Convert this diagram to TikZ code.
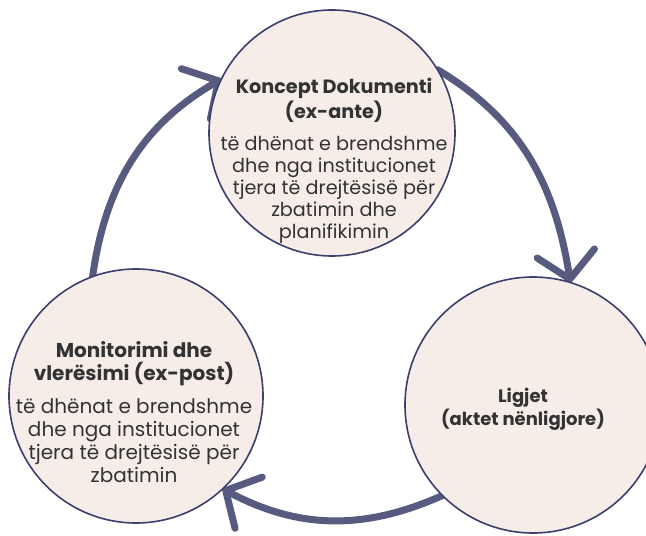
\documentclass[tikz,border=0pt]{standalone}
\usepackage{fontspec}
\setmainfont{Poppins}
\usetikzlibrary{arrows.meta, backgrounds}
\definecolor{ringblue}{HTML}{575B80}
\definecolor{rimblue}{HTML}{3C3F6C}
\definecolor{stagefill}{HTML}{F6EDE9}
\definecolor{textgrey}{HTML}{333333}

\begin{document}
\begin{tikzpicture}[
    x=0.5pt, y=0.5pt,
    stage/.style={circle, draw=rimblue, line width=0.8pt, fill=stagefill, inner sep=0pt, outer sep=0pt},
    stagetext/.style={align=center, text=textgrey, font=\fontsize{9}{10.5}\selectfont},
    cycle/.style={draw=ringblue, line width=3.5pt, line cap=round,
        -{Straight Barb[length=13pt,width=29pt,round]}}
]
    \useasboundingbox (0,0) rectangle (646,535);

    % The three stages of the cycle
    \node[stage, minimum size=123pt] (ka) at (332,402) {};
    \node[stage, minimum size=128pt] (lig) at (533,130) {};
    \node[stage, minimum size=127pt] (mon) at (136,139) {};

    % Texts inside the stages
    \node[stagetext, font=\fontsize{9.6}{11}\selectfont] (ka-text) at (334,374)
        {\textbf{Koncept Dokumenti}\\\textbf{(ex-ante)}\\[5pt]
         të dhënat e brendshme\\dhe nga institucionet\\tjera të drejtësisë për\\zbatimin dhe\\planifikimin};
    \node[stagetext] (lig-text) at (523,126)
        {\textbf{Ligjet}\\\textbf{(aktet nënligjore)}};
    \node[stagetext, font=\fontsize{10}{11.5}\selectfont] (mon-text) at (134,123)
        {\textbf{Monitorimi dhe}\\\textbf{vlerësimi (ex-post)}\\[5pt]
         të dhënat e brendshme\\dhe nga institucionet\\tjera të drejtësisë për\\zbatimin};

    % Arrows between stages (behind the circles)
    \begin{scope}[on background layer]
        \draw[cycle] (mon.110) to[out=82, in=210] (ka.154);
        \draw[cycle] (ka.31) to[out=-31, in=99] (lig.73);
        \draw[cycle] (lig.225) to[out=204, in=-28] (mon.-47);
    \end{scope}
\end{tikzpicture}
\end{document}
